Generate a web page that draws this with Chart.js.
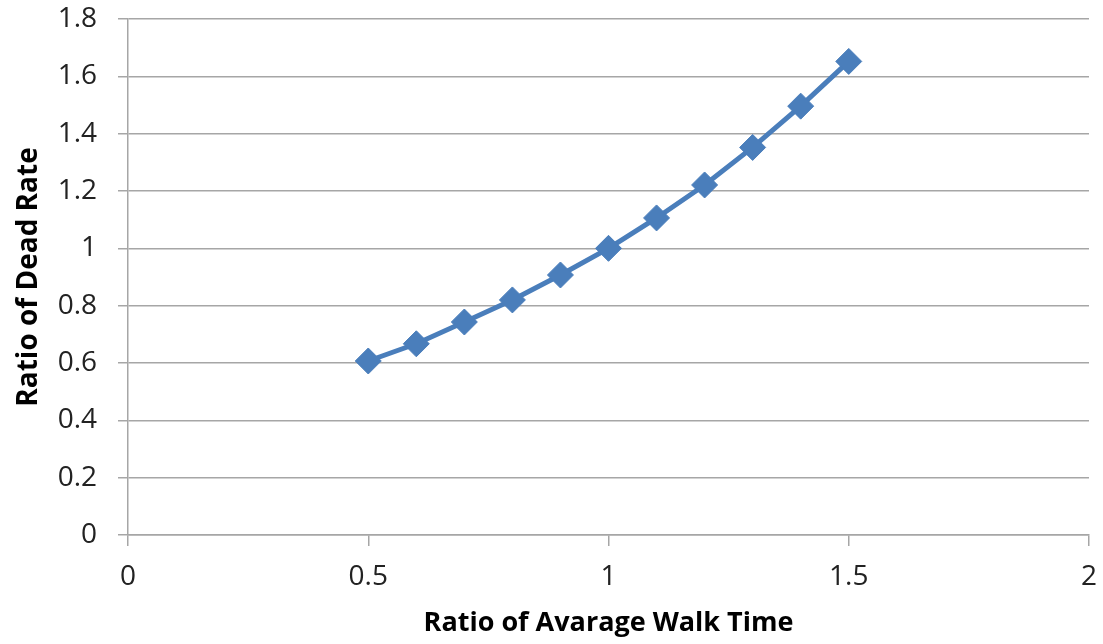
<!DOCTYPE html>
<html>
<head>
<meta charset="utf-8">
<script src="https://cdn.jsdelivr.net/npm/chart.js@4"></script>
<style>
  html, body { margin: 0; padding: 0; background: #fff; }
  #wrap { width: 1103px; height: 644px; position: relative; }
</style>
</head>
<body>
<div id="wrap"><canvas id="chart"></canvas></div>
<script>
// walk time ratio vs dead rate ratio
const walkTime = [0.5, 0.6, 0.7, 0.8, 0.9, 1.0, 1.1, 1.2, 1.3, 1.4, 1.5];
const deadRate = [0.607, 0.667, 0.743, 0.82, 0.907, 1.0, 1.106, 1.221, 1.352, 1.496, 1.652];
const xTicks = [0, 0.5, 1, 1.5, 2];
const yTicks = [0, 0.2, 0.4, 0.6, 0.8, 1, 1.2, 1.4, 1.6, 1.8];

const blue = '#4a7ebb';
const gridGray = '#a6a6a6';
const textColor = '#222';

const points = walkTime.map((x, i) => ({ x: x, y: deadRate[i] }));

new Chart(document.getElementById('chart'), {
    type: 'line',
    data: {
        datasets: [{
            data: points,
            borderColor: blue,
            backgroundColor: blue,
            borderWidth: 5,
            pointStyle: 'rectRot',
            pointRadius: 13,
            pointHoverRadius: 13,
            pointBorderWidth: 1,
            tension: 0
        }]
    },
    options: {
        responsive: true,
        maintainAspectRatio: false,
        animation: false,
        layout: { padding: { left: 10, right: 13, top: 19, bottom: 0 } },
        plugins: { legend: { display: false }, tooltip: { enabled: false } },
        scales: {
            x: {
                type: 'linear',
                min: 0,
                max: 2,
                afterBuildTicks: s => { s.ticks = xTicks.map(v => ({ value: v })); },
                afterFit: s => { s.height = 109; s.paddingLeft = 0; s.paddingRight = 0; },
                grid: { drawOnChartArea: false, color: gridGray, tickLength: 11, lineWidth: 1.5 },
                border: { color: gridGray, width: 1.5 },
                ticks: {
                    color: textColor,
                    padding: 14,
                    maxRotation: 0,
                    font: { family: 'Open Sans', size: 28 },
                    callback: v => String(v)
                },
                title: {
                    display: true,
                    text: 'Ratio of Avarage Walk Time',
                    color: '#000',
                    padding: { top: 1 },
                    font: { family: 'Open Sans', size: 27, weight: 'bold' }
                }
            },
            y: {
                min: 0,
                max: 1.8,
                afterBuildTicks: s => { s.ticks = yTicks.map(v => ({ value: v })); },
                afterFit: s => { s.width = 118; s.paddingTop = 0; s.paddingBottom = 0; },
                grid: { color: gridGray, tickLength: 10, lineWidth: 1.5 },
                border: { color: gridGray, width: 1.5 },
                ticks: {
                    color: textColor,
                    padding: 21,
                    font: { family: 'Open Sans', size: 28 },
                    callback: v => String(v)
                },
                title: {
                    display: true,
                    text: 'Ratio of Dead Rate',
                    color: '#000',
                    padding: { top: 2, bottom: 0 },
                    font: { family: 'Open Sans', size: 28, weight: 'bold' }
                }
            }
        }
    }
});
</script>
</body>
</html>
